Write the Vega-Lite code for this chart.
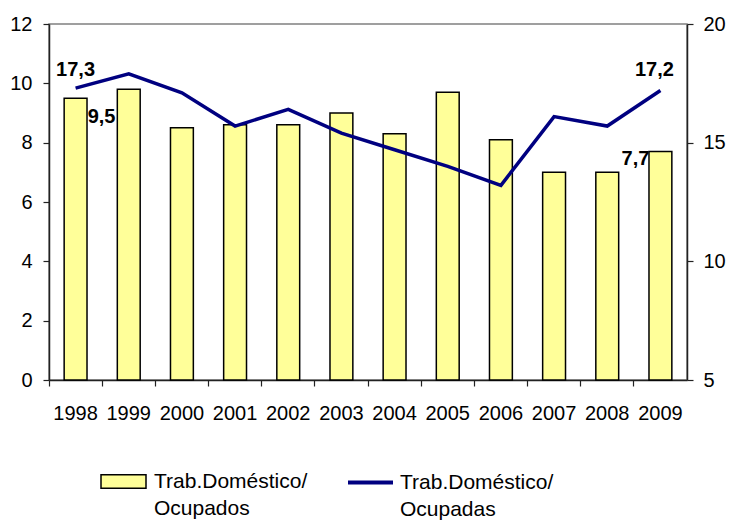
{
  "$schema": "https://vega.github.io/schema/vega-lite/v6.json",
  "width": 638,
  "height": 356,
  "autosize": {"type": "none"},
  "padding": {"left": 49, "top": 24, "right": 44, "bottom": 141},
  "background": "white",
  "config": {
    "font": "Liberation Sans",
    "view": {"stroke": "#808080", "strokeWidth": 1.5},
    "locale": {"number": {"decimal": ",", "thousands": ".", "grouping": [3], "currency": ["", " €"]}},
    "style": {"guide-label": {"lineHeight": 27}},
    "axis": {
      "labelFont": "Liberation Sans",
      "labelFontSize": 20,
      "labelColor": "black",
      "domainColor": "#222222",
      "domainWidth": 1.5,
      "tickColor": "#222222",
      "tickWidth": 1.2,
      "tickSize": 6,
      "grid": false,
      "title": null
    },
    "legend": {
      "labelFont": "Liberation Sans",
      "labelFontSize": 21,
      "labelColor": "black",
      "labelLimit": 400,
      "padding": 0
    }
  },
  "data": {
    "values": [
      {"year": "1998", "ocupados": 9.5, "ocupadas": 17.3},
      {"year": "1999", "ocupados": 9.8, "ocupadas": 17.9},
      {"year": "2000", "ocupados": 8.5, "ocupadas": 17.1},
      {"year": "2001", "ocupados": 8.6, "ocupadas": 15.7},
      {"year": "2002", "ocupados": 8.6, "ocupadas": 16.4},
      {"year": "2003", "ocupados": 9.0, "ocupadas": 15.4},
      {"year": "2004", "ocupados": 8.3, "ocupadas": 14.7},
      {"year": "2005", "ocupados": 9.7, "ocupadas": 14.0},
      {"year": "2006", "ocupados": 8.1, "ocupadas": 13.2},
      {"year": "2007", "ocupados": 7.0, "ocupadas": 16.1},
      {"year": "2008", "ocupados": 7.0, "ocupadas": 15.7},
      {"year": "2009", "ocupados": 7.7, "ocupadas": 17.2}
    ]
  },
  "encoding": {
    "x": {
      "field": "year",
      "type": "nominal",
      "sort": null,
      "scale": {"type": "band", "paddingInner": 0, "paddingOuter": 0},
      "axis": {"labelAngle": 0, "bandPosition": 0, "labelPadding": 17, "labelBaseline": "top"}
    }
  },
  "layer": [
    {
      "encoding": {
        "y": {
          "field": "ocupados",
          "type": "quantitative",
          "scale": {"domain": [0, 12], "nice": false, "zero": true},
          "axis": {"orient": "left", "values": [0, 2, 4, 6, 8, 10, 12], "labelPadding": 11}
        }
      },
      "layer": [
        {
          "mark": {"type": "bar", "stroke": "black", "strokeWidth": 1.5, "width": {"band": 0.43}},
          "encoding": {
            "fill": {
              "datum": "Trab.Doméstico/Ocupados",
              "scale": {"range": ["#FFFF99"]},
              "legend": {
                "orient": "none",
                "legendX": 51,
                "legendY": 434,
                "title": null,
                "symbolType": "M-1,-0.3H1V0.3H-1Z",
                "symbolSize": 2025,
                "symbolStrokeColor": "black",
                "symbolStrokeWidth": 1.5,
                "labelOffset": 7,
                "labelBaseline": "middle",
                "labelExpr": "['Trab.Doméstico/', 'Ocupados']"
              }
            }
          }
        },
        {
          "transform": [{"filter": "datum.year == '1998'"}],
          "mark": {"type": "text", "font": "Liberation Sans", "fontWeight": "bold", "fontSize": 20, "color": "black", "baseline": "middle", "align": "center", "dx": 26, "dy": 19},
          "encoding": {"text": {"field": "ocupados", "type": "quantitative", "format": ".1f"}}
        },
        {
          "transform": [{"filter": "datum.year == '2009'"}],
          "mark": {"type": "text", "font": "Liberation Sans", "fontWeight": "bold", "fontSize": 20, "color": "black", "baseline": "middle", "align": "center", "dx": -25, "dy": 7},
          "encoding": {"text": {"field": "ocupados", "type": "quantitative", "format": ".1f"}}
        }
      ]
    },
    {
      "encoding": {
        "y": {
          "field": "ocupadas",
          "type": "quantitative",
          "scale": {"domain": [5, 20], "nice": false, "zero": false},
          "axis": {"orient": "right", "values": [5, 10, 15, 20], "labelPadding": 10}
        }
      },
      "layer": [
        {
          "mark": {"type": "line", "strokeWidth": 3.5, "strokeJoin": "miter"},
          "encoding": {
            "stroke": {
              "datum": "Trab.Doméstico/Ocupadas",
              "scale": {"range": ["#000080"]},
              "legend": {
                "orient": "none",
                "legendX": 297,
                "legendY": 434,
                "title": null,
                "symbolType": "M-1,0H1",
                "symbolSize": 2025,
                "symbolStrokeWidth": 4,
                "symbolFillColor": "transparent",
                "labelOffset": 5,
                "labelBaseline": "middle",
                "labelExpr": "['Trab.Doméstico/', 'Ocupadas']"
              }
            }
          }
        },
        {
          "transform": [{"filter": "datum.year == '1998'"}],
          "mark": {"type": "text", "font": "Liberation Sans", "fontWeight": "bold", "fontSize": 20, "color": "black", "baseline": "middle", "align": "center", "dx": 0, "dy": -18},
          "encoding": {"text": {"field": "ocupadas", "type": "quantitative", "format": ".1f"}}
        },
        {
          "transform": [{"filter": "datum.year == '2009'"}],
          "mark": {"type": "text", "font": "Liberation Sans", "fontWeight": "bold", "fontSize": 20, "color": "black", "baseline": "middle", "align": "center", "dx": -6, "dy": -20},
          "encoding": {"text": {"field": "ocupadas", "type": "quantitative", "format": ".1f"}}
        }
      ]
    }
  ],
  "resolve": {"scale": {"y": "independent"}}
}
